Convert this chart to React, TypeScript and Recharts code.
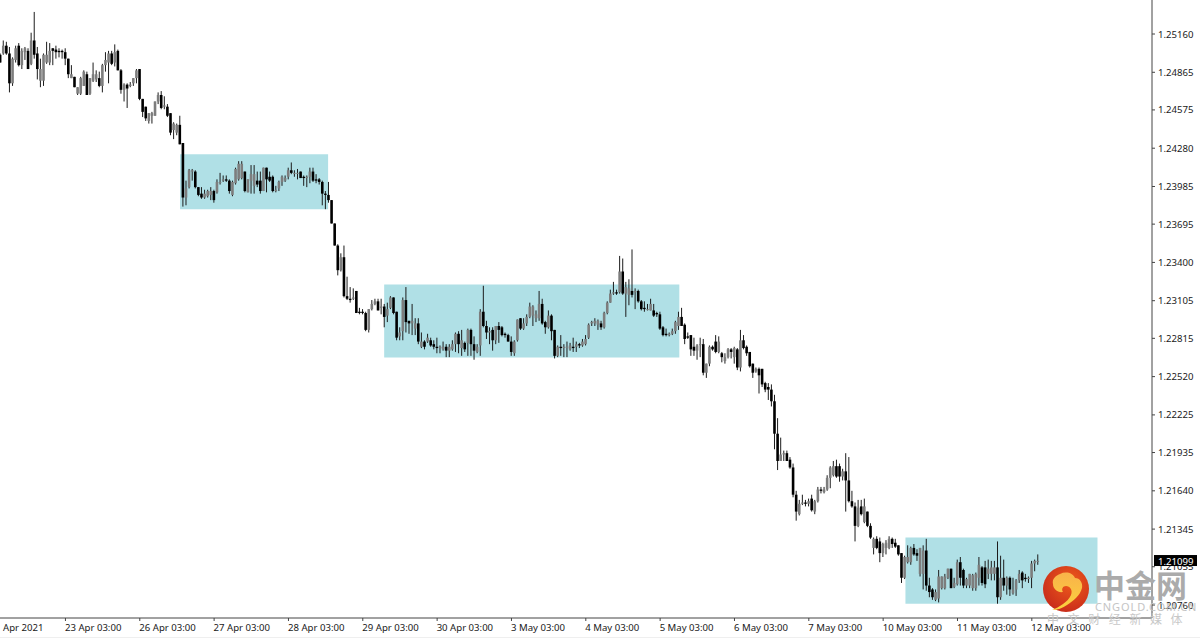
import React from "react";
import {
  ComposedChart,
  Bar,
  XAxis,
  YAxis,
  ReferenceArea,
} from "recharts";

// EURUSD H1, prices in 1/10000
const opens = [
  12500,12501,12507,12501,12478,12496,12507,12492,12502,12503,
  12493,12511,12501,12480,12480,12494,12494,12505,12504,12503,
  12503,12502,12497,12482,12483,12470,12470,12476,12485,12470,
  12480,12481,12482,12476,12492,12494,12501,12494,12503,12488,
  12473,12477,12476,12478,12482,12489,12466,12460,12449,12453,
  12453,12464,12469,12460,12460,12455,12442,12440,12446,12432,
  12390,12398,12410,12410,12398,12393,12390,12391,12392,12395,
  12394,12402,12403,12404,12403,12392,12401,12404,12405,12410,
  12394,12403,12399,12403,12403,12395,12413,12406,12406,12395,
  12397,12402,12403,12406,12411,12409,12409,12410,12406,12405,
  12406,12410,12404,12404,12402,12393,12392,12388,12370,12353,
  12334,12344,12314,12312,12312,12318,12302,12302,12301,12288,
  12304,12308,12310,12305,12306,12299,12305,12313,12302,12283,
  12287,12311,12295,12293,12289,12293,12275,12279,12279,12280,
  12277,12275,12274,12273,12275,12272,12273,12277,12285,12274,
  12278,12278,12288,12277,12271,12276,12302,12291,12286,12288,
  12280,12291,12290,12285,12284,12279,12270,12280,12297,12289,
  12293,12298,12299,12297,12297,12308,12294,12290,12299,12288,
  12268,12275,12274,12275,12273,12275,12275,12277,12276,12277,
  12282,12293,12293,12292,12293,12290,12301,12309,12316,12317,
  12317,12333,12316,12315,12318,12317,12318,12310,12305,12304,
  12303,12303,12301,12300,12290,12285,12284,12285,12287,12291,
  12298,12292,12283,12284,12275,12272,12277,12277,12255,12262,
  12275,12279,12271,12270,12264,12267,12273,12267,12273,12259,
  12280,12275,12271,12262,12256,12258,12258,12247,12244,12242,
  12233,12208,12187,12192,12193,12188,12182,12161,12146,12154,
  12155,12154,12158,12148,12156,12165,12163,12165,12174,12176,
  12183,12183,12175,12179,12172,12156,12152,12137,12152,12140,
  12148,12137,12120,12127,12125,12116,12120,12120,12127,12124,
  12122,12116,12097,12109,12109,12120,12116,12100,12100,12118,
  12091,12088,12080,12081,12089,12089,12097,12104,12090,12092,
  12109,12103,12091,12091,12089,12089,12097,12105,12105,12100,
  12100,12100,12105,12082,12097,12091,12097,12085,12088,12095,
  12101,12097,12096,12097,12108,12110,
];
const closes = [
  12494,12507,12501,12478,12497,12505,12492,12503,12505,12489,
  12511,12500,12489,12489,12500,12500,12503,12503,12502,12502,
  12502,12497,12485,12485,12475,12475,12482,12487,12469,12482,
  12485,12485,12476,12492,12496,12501,12493,12502,12488,12473,
  12477,12474,12477,12482,12488,12466,12456,12451,12455,12455,
  12464,12469,12459,12461,12453,12440,12447,12446,12431,12390,
  12397,12411,12411,12398,12392,12390,12393,12395,12395,12388,
  12402,12402,12404,12403,12395,12402,12412,12416,12416,12395,
  12404,12408,12408,12400,12395,12413,12404,12403,12395,12396,
  12402,12406,12405,12411,12409,12409,12409,12405,12405,12406,
  12410,12403,12403,12402,12393,12392,12388,12370,12353,12334,
  12344,12314,12312,12311,12313,12301,12301,12301,12288,12304,
  12308,12310,12303,12306,12298,12304,12313,12301,12282,12286,
  12311,12294,12293,12295,12293,12279,12279,12275,12282,12276,
  12275,12274,12275,12275,12272,12275,12277,12285,12277,12280,
  12273,12288,12277,12272,12275,12302,12291,12286,12287,12280,
  12291,12288,12284,12284,12279,12271,12279,12296,12289,12293,
  12298,12306,12306,12300,12308,12293,12290,12299,12287,12268,
  12275,12274,12275,12275,12276,12274,12277,12276,12279,12281,
  12292,12294,12295,12295,12290,12301,12309,12316,12317,12316,
  12333,12316,12321,12320,12315,12318,12310,12304,12304,12304,
  12308,12299,12300,12289,12284,12284,12285,12287,12294,12298,
  12291,12281,12282,12273,12272,12276,12277,12255,12262,12275,
  12273,12271,12279,12267,12267,12273,12271,12274,12259,12280,
  12274,12270,12260,12255,12258,12253,12246,12242,12242,12233,
  12208,12187,12192,12193,12187,12182,12161,12148,12154,12155,
  12154,12156,12149,12156,12165,12164,12165,12174,12182,12183,
  12175,12175,12179,12172,12156,12152,12137,12151,12146,12152,
  12137,12128,12127,12120,12116,12123,12124,12127,12123,12121,
  12115,12097,12113,12113,12120,12115,12114,12120,12118,12091,
  12086,12082,12086,12098,12098,12098,12104,12089,12093,12109,
  12097,12091,12096,12100,12099,12100,12107,12093,12092,12104,
  12105,12105,12082,12097,12091,12097,12088,12088,12095,12100,
  12095,12096,12097,12108,12110,12110,
];
const highs = [
  12501,12511,12510,12506,12498,12507,12509,12505,12506,12505,
  12517,12533,12506,12497,12501,12510,12509,12505,12507,12505,
  12504,12505,12497,12492,12483,12475,12483,12488,12487,12482,
  12494,12488,12487,12493,12502,12503,12503,12508,12504,12489,
  12478,12478,12479,12482,12489,12489,12466,12460,12455,12456,
  12464,12471,12472,12468,12462,12455,12448,12447,12453,12432,
  12403,12412,12412,12411,12398,12398,12396,12396,12398,12396,
  12404,12409,12407,12407,12404,12403,12413,12418,12418,12410,
  12404,12415,12415,12410,12410,12413,12413,12410,12407,12399,
  12403,12407,12407,12413,12417,12411,12412,12410,12407,12407,
  12413,12413,12408,12405,12403,12395,12402,12388,12370,12354,
  12347,12353,12329,12321,12320,12318,12305,12304,12302,12304,
  12311,12312,12312,12312,12308,12309,12314,12313,12302,12290,
  12313,12321,12295,12308,12297,12297,12286,12280,12285,12282,
  12280,12282,12276,12279,12277,12277,12280,12286,12287,12288,
  12279,12289,12289,12283,12277,12304,12322,12295,12290,12290,
  12291,12294,12291,12286,12285,12283,12280,12296,12297,12297,
  12300,12309,12307,12303,12318,12312,12295,12303,12300,12288,
  12276,12284,12277,12279,12278,12282,12279,12278,12281,12284,
  12293,12295,12297,12296,12295,12302,12310,12319,12325,12319,
  12345,12343,12325,12327,12350,12320,12319,12311,12310,12308,
  12312,12308,12302,12302,12291,12289,12286,12289,12295,12302,
  12305,12293,12286,12284,12282,12277,12282,12281,12262,12276,
  12276,12284,12283,12271,12270,12274,12274,12275,12274,12288,
  12284,12276,12271,12262,12259,12259,12258,12248,12247,12246,
  12238,12220,12205,12195,12195,12190,12185,12164,12157,12161,
  12157,12158,12161,12157,12167,12167,12167,12176,12183,12187,
  12188,12185,12181,12193,12190,12164,12155,12157,12157,12158,
  12148,12139,12128,12129,12128,12124,12126,12129,12128,12127,
  12122,12116,12114,12122,12121,12123,12119,12120,12122,12127,
  12097,12089,12088,12103,12098,12100,12104,12104,12097,12111,
  12113,12104,12097,12100,12100,12101,12113,12106,12110,12111,
  12110,12110,12125,12114,12111,12098,12098,12097,12096,12103,
  12102,12100,12098,12110,12111,12115,
];
const lows = [
  12494,12500,12500,12471,12476,12494,12491,12489,12496,12489,
  12492,12497,12481,12475,12476,12493,12492,12492,12497,12498,
  12497,12492,12482,12482,12475,12469,12469,12476,12469,12469,
  12479,12479,12475,12471,12487,12478,12492,12491,12488,12470,
  12464,12459,12475,12476,12478,12465,12452,12449,12447,12447,
  12453,12462,12458,12458,12452,12438,12435,12438,12431,12383,
  12384,12397,12403,12397,12391,12389,12389,12390,12388,12386,
  12393,12400,12402,12402,12393,12391,12400,12403,12404,12394,
  12394,12393,12393,12398,12393,12395,12394,12402,12394,12394,
  12395,12399,12402,12404,12408,12406,12404,12405,12399,12398,
  12401,12402,12401,12400,12384,12381,12386,12370,12353,12330,
  12333,12313,12311,12309,12311,12301,12300,12300,12287,12286,
  12303,12307,12303,12300,12290,12294,12304,12300,12280,12280,
  12280,12286,12285,12284,12284,12277,12274,12273,12278,12275,
  12273,12270,12270,12272,12267,12267,12272,12271,12270,12268,
  12271,12268,12268,12265,12270,12268,12290,12281,12277,12272,
  12277,12278,12283,12282,12279,12268,12268,12279,12288,12288,
  12291,12297,12291,12294,12295,12292,12285,12289,12280,12266,
  12267,12268,12267,12267,12272,12271,12271,12274,12275,12276,
  12281,12291,12291,12288,12288,12289,12300,12309,12315,12315,
  12316,12315,12298,12307,12313,12304,12309,12303,12302,12303,
  12303,12298,12298,12288,12283,12283,12283,12284,12285,12288,
  12291,12277,12281,12268,12268,12265,12267,12253,12251,12260,
  12272,12270,12270,12263,12262,12266,12266,12262,12257,12256,
  12273,12268,12259,12251,12255,12239,12244,12240,12234,12229,
  12196,12180,12187,12187,12187,12181,12159,12141,12145,12153,
  12152,12152,12148,12146,12155,12162,12162,12164,12166,12175,
  12174,12171,12172,12148,12155,12151,12125,12136,12145,12139,
  12136,12127,12115,12119,12109,12113,12115,12119,12120,12120,
  12114,12093,12096,12108,12107,12114,12110,12098,12088,12087,
  12082,12080,12079,12078,12088,12088,12096,12089,12089,12091,
  12091,12089,12089,12089,12087,12087,12091,12091,12089,12096,
  12095,12095,12077,12080,12087,12084,12083,12084,12083,12093,
  12089,12094,12093,12089,12102,12107,
];

const xTicks = [1, 21, 45, 69, 93, 117, 141, 165, 189, 213, 237, 261, 285, 309, 333];
const xLabels = [
  "Apr 2021",
  "23 Apr 03:00",
  "26 Apr 03:00",
  "27 Apr 03:00",
  "28 Apr 03:00",
  "29 Apr 03:00",
  "30 Apr 03:00",
  "3 May 03:00",
  "4 May 03:00",
  "5 May 03:00",
  "6 May 03:00",
  "7 May 03:00",
  "10 May 03:00",
  "11 May 03:00",
  "12 May 03:00",
];

const LAST_PRICE = 1.21099;
const priceTicks = [
  1.2516, 1.24865, 1.24575, 1.2428, 1.23985, 1.23695, 1.234, 1.23105, 1.22815,
  1.2252, 1.22225, 1.21935, 1.2164, 1.21345, 1.21055, 1.2076, LAST_PRICE,
];

// consolidation boxes: from bar, to bar, top price, bottom price
const boxFrom = [58, 123.9, 292.2];
const boxTo = [105.8, 219.2, 354.2];
const boxTop = [1.24233, 1.2323, 1.2128];
const boxBottom = [1.23809, 1.22668, 1.2077];

const chartData = opens.map((o, i) => ({
  i,
  open: o / 10000,
  close: closes[i] / 10000,
  range: [lows[i] / 10000, highs[i] / 10000],
}));

const FONT = "'Noto Sans', sans-serif";

function Candle(props: any) {
  const { x, y, width, height, payload } = props;
  const [low, high] = payload.range;
  const k = high > low ? height / (high - low) : 0;
  const cx = x + width / 2;
  const top = y + (high - Math.max(payload.open, payload.close)) * k;
  const bodyH = Math.max(Math.abs(payload.open - payload.close) * k, 1);
  const up = payload.close >= payload.open;
  return (
    <g>
      <line x1={cx} x2={cx} y1={y} y2={y + Math.max(height, 1)} stroke="#1c1c1c" strokeWidth={1} />
      <rect x={x} y={top} width={width} height={bodyH} fill={up ? "#7d7d7d" : "#000"} />
    </g>
  );
}

function TimeTick(props: any) {
  const { x, y, payload, index } = props;
  const label = xLabels[xTicks.indexOf(payload.value)];
  return (
    <g>
      {index > 0 && <line x1={x} x2={x} y1={y} y2={y + 3} stroke="#444" />}
      <text x={x - 0.5} y={y + 13} fontSize={9.6} fontFamily={FONT} fill="#1a1a1a">
        {label}
      </text>
    </g>
  );
}

function PriceTick(props: any) {
  const { x, y, payload } = props;
  const isLast = payload.value === LAST_PRICE;
  return (
    <g>
      {!isLast && <line x1={x} x2={x + 3} y1={y} y2={y} stroke="#444" />}
      {isLast && <rect x={x + 2} y={y - 6} width={43} height={11} fill="#000" />}
      <text
        x={x + 6}
        y={y + 3.5}
        fontSize={9.6}
        fontFamily={FONT}
        fill={isLast ? "#fff" : "#1a1a1a"}
      >
        {payload.value.toFixed(5)}
      </text>
    </g>
  );
}

function Watermark() {
  return (
    <svg
      width={1200}
      height={638}
      style={{ position: "absolute", left: 0, top: 0, pointerEvents: "none" }}
    >
      <defs>
        <radialGradient id="logo" cx="60%" cy="35%" r="75%">
          <stop offset="0%" stopColor="#ee5a1c" />
          <stop offset="100%" stopColor="#c5281a" />
        </radialGradient>
        <linearGradient id="swirl" x1="0" y1="0" x2="0" y2="1">
          <stop offset="0%" stopColor="#f9b24a" />
          <stop offset="100%" stopColor="#fbd23e" />
        </linearGradient>
      </defs>
      <circle cx={1066} cy={589} r={23} fill="url(#logo)" />
      <path
        d="M1060 574c6-3 13-1 15 4 5 0 8 5 7 10-2 8-9 13-15 17-4 3-10 5-15 5 7-3 16-8 19-15 2-5-1-9-5-9-3 0-5 3-3 6-5 1-10-3-10-8-1-5 2-8 7-10z"
        fill="url(#swirl)"
      />
      <text x={1094} y={597} fontSize={31} fontWeight={700} fontFamily="'Noto Sans CJK SC'" fill="#ababab">
        中金网
      </text>
      <text x={1095} y={611} fontSize={11} letterSpacing={0.9} fontFamily={FONT} fill="#c4c4c4">
        CNGOLD.COM.CN
      </text>
      <text x={1047} y={624} fontSize={12} letterSpacing={8.6} fontFamily="'Noto Sans CJK SC'" fill="#c8c8c8">
        中文财经新媒体
      </text>
      <rect x={0} y={637} width={1200} height={1} fill="#efefef" />
    </svg>
  );
}

export default function App() {
  return (
    <div style={{ position: "absolute", left: 0, top: 0, width: 1200, height: 638, background: "#fff" }}>
      <ComposedChart
        width={1200}
        height={638}
        data={chartData}
        margin={{ top: 0, right: 0, bottom: 0, left: 0 }}
      >
        <XAxis
          dataKey="i"
          type="number"
          domain={[-0.13, 371.8]}
          ticks={xTicks}
          interval={0}
          height={20}
          tickSize={0}
          tickMargin={0}
          tickLine={false}
          axisLine={{ stroke: "#444" }}
          tick={TimeTick}
        />
        <YAxis
          type="number"
          orientation="right"
          domain={[1.2066, 1.25422]}
          ticks={priceTicks}
          interval={0}
          width={48}
          tickSize={0}
          tickMargin={0}
          tickLine={false}
          axisLine={{ stroke: "#444" }}
          tick={PriceTick}
        />
        {boxFrom.map((from, n) => (
          <ReferenceArea
            key={n}
            x1={from}
            x2={boxTo[n]}
            y1={boxTop[n]}
            y2={boxBottom[n]}
            fill="#b0e0e6"
            fillOpacity={1}
            stroke="none"
          />
        ))}
        <Bar dataKey="range" barSize={2.6} shape={Candle} isAnimationActive={false} />
      </ComposedChart>
      <Watermark />
    </div>
  );
}
